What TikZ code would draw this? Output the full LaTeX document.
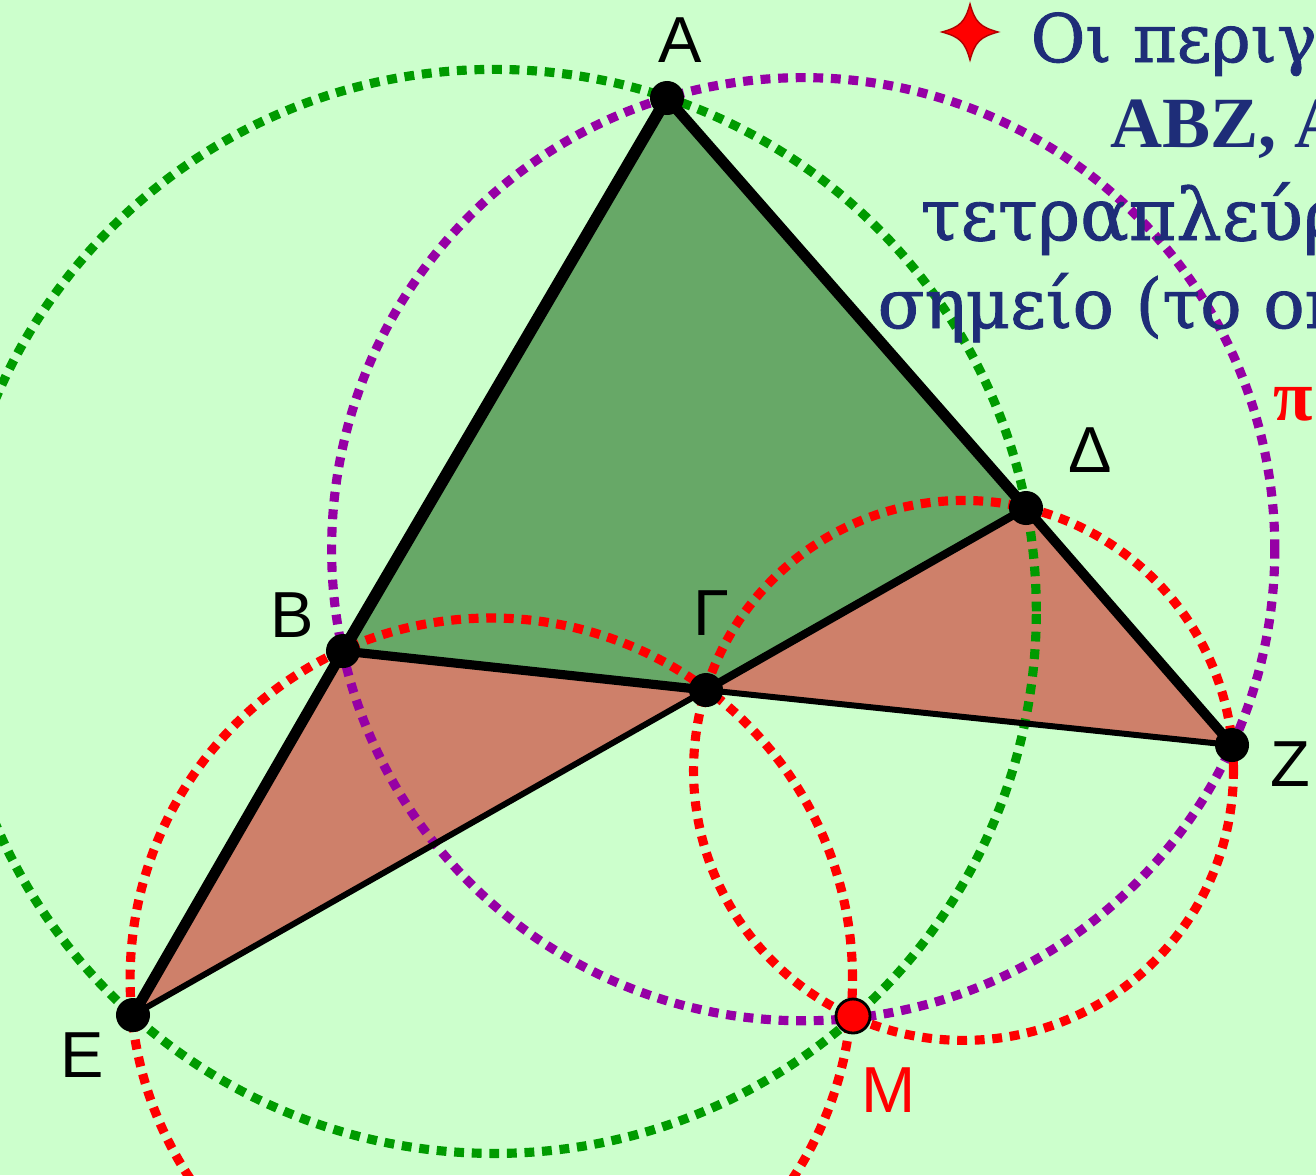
\documentclass[tikz,border=0pt]{standalone}
\usepackage{fontspec}
\setmainfont{DejaVu Serif}
\newfontfamily\labelfont{Liberation Sans}
\newfontfamily\embfont{DejaVu Serif}[FakeBold=1.3]
\newfontfamily\headfont{Liberation Serif}
\usetikzlibrary{positioning}
\definecolor{bgcol}{RGB}{204,255,204}
\definecolor{leafgreen}{RGB}{103,168,103}
\definecolor{salmon}{RGB}{206,128,106}
\definecolor{ringgreen}{RGB}{0,155,0}
\definecolor{ringpurple}{RGB}{150,0,165}
\definecolor{navy}{RGB}{30,45,120}
\begin{document}
\begin{tikzpicture}[x=0.01cm,y=-0.01cm,
ring/.style={line width=2.6pt,dash pattern=on 2.8pt off 2.2pt},
side/.style={line width=#1,line cap=round},
lbl/.style={font=\labelfont\fontsize{18.5}{20}\selectfont,inner sep=0pt},
txt/.style={anchor=base west,inner sep=0pt,text=navy,font=\embfont\fontsize{#1}{22}\selectfont},
head/.style={anchor=base west,inner sep=0pt,font=\headfont\bfseries\fontsize{20.5}{22}\selectfont}]
\useasboundingbox (0,0) rectangle (1316,1175);
\clip (0,0) rectangle (1316,1175);
\fill[bgcol] (0,0) rectangle (1316,1175);
% points of the complete quadrilateral
\coordinate (A) at (667,98);
\coordinate (B) at (343,651);
\coordinate (G) at (706,690);
\coordinate (D) at (1026,508);
\coordinate (E) at (133,1015);
\coordinate (Z) at (1232,745);
\coordinate (M) at (853,1016);
% regions
\fill[leafgreen] (A) -- (B) -- (G) -- (D) -- cycle;
\fill[salmon] (B) -- (E) -- (G) -- cycle;
\fill[salmon] (G) -- (D) -- (Z) -- cycle;
% circumcircles
\draw[ring,ringgreen] (494.3,611.4) circle[radius=5.417cm];
\draw[ring,ringpurple] (803.2,549.2) circle[radius=4.713cm];
\draw[ring,red] (491.3,979.2) circle[radius=3.61cm];
\draw[ring,red] (963.5,770.4) circle[radius=2.698cm];
% sides
\draw[side=3.4pt] (A) -- (B);
\draw[side=3.1pt] (B) -- (E);
\draw[side=3.1pt] (A) -- (D);
\draw[side=2.8pt] (D) -- (Z);
\draw[side=2.6pt] (B) -- (G);
\draw[side=1.7pt] (G) -- (Z);
\draw[side=1.7pt] (E) -- (G);
\draw[side=2.3pt] (G) -- (D);
% vertices
\foreach \p in {A,B,G,D,E,Z}
  \fill (\p) circle[radius=0.17cm];
\filldraw[fill=red,draw=black,line width=0.8pt] (M) circle[radius=0.17cm];
% labels
\node[lbl] (lA) at (680,40) {Α};
\node[lbl] (lB) at (292,615) {Β};
\node[lbl] (lG) at (711,613) {Γ};
\node[lbl] (lD) at (1090,450) {Δ};
\node[lbl] (lE) at (82,1055) {Ε};
\node[lbl] (lZ) at (1290,764) {Ζ};
\node[lbl,text=red] (lM) at (889,1090) {Μ};
% text
\begin{scope}[shift={(970,32)}]
\fill[red,draw=red!70!black,line width=0.4pt] (0,-28) .. controls (5,-10) and (10,-5) .. (28,0)
  .. controls (10,5) and (5,10) .. (0,28) .. controls (-5,10) and (-10,5) .. (-28,0)
  .. controls (-10,-5) and (-5,-10) .. (0,-28) -- cycle;
\end{scope}
\node[txt=19] (t1) at (1030,62) {Οι περιγε};
\node[head,text=navy] (t2) at (1110,147) {ΑΒΖ, Α};
\node[txt=20.5] (t3) at (920,240) {τετραπλεύρ};
\node[txt=19.5] (t4) at (877,328) {σημείο (το οπ};
\node[head,text=red] (t5) at (1273,420) {π};
\end{tikzpicture}
\end{document}
